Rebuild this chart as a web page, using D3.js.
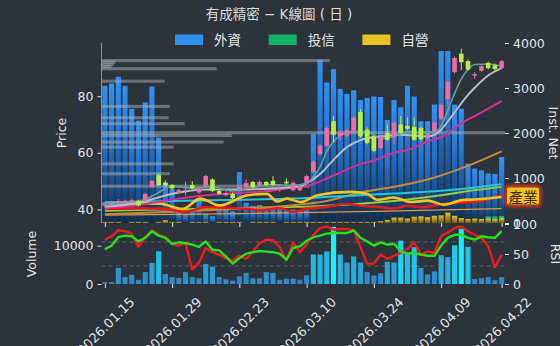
<!DOCTYPE html>
<html>
<head>
<meta charset="utf-8">
<script src="https://cdn.jsdelivr.net/npm/d3@7"></script>
<style>
  body { margin: 0; background: #2d333b; }
  svg { display: block; }
</style>
</head>
<body>
<div id="chart"></div>
<script>
// ---- data ----
var dates = ["2026.01.15","2026.01.16","2026.01.19","2026.01.20","2026.01.21","2026.01.22","2026.01.23","2026.01.26","2026.01.27","2026.01.28",
  "2026.01.29","2026.01.30","2026.02.02","2026.02.03","2026.02.04","2026.02.05","2026.02.06","2026.02.09","2026.02.10","2026.02.11",
  "2026.02.23","2026.02.24","2026.02.25","2026.02.26","2026.03.02","2026.03.03","2026.03.04","2026.03.05","2026.03.06","2026.03.09",
  "2026.03.10","2026.03.11","2026.03.12","2026.03.13","2026.03.16","2026.03.17","2026.03.18","2026.03.19","2026.03.20","2026.03.23",
  "2026.03.24","2026.03.25","2026.03.26","2026.03.27","2026.03.30","2026.03.31","2026.04.01","2026.04.02","2026.04.07","2026.04.08",
  "2026.04.09","2026.04.10","2026.04.13","2026.04.14","2026.04.15","2026.04.16","2026.04.17","2026.04.20","2026.04.21","2026.04.22"];
var tickIdx = [0, 10, 20, 30, 40, 50, 59];

var opens = [41.3,41.8,42.2,42.4,42.5,43.0,43.2,48.0,52.1,49.4,
  48.6,45.8,46.6,48.6,46.0,48.0,50.6,46.5,45.0,45.5,
  46.8,47.8,49.7,48.6,49.7,50.1,47.1,49.8,46.8,46.8,
  49.4,53.3,59.5,62.5,71.2,66.0,66.0,67.0,74.4,68.2,
  65.8,61.7,67.0,65.8,70.0,69.5,69.2,68.8,65.3,67.6,
  72.0,79.0,88.5,95.0,92.4,87.3,89.0,91.8,91.0,89.9];
var closes = [41.9,42.5,42.9,43.0,43.2,41.4,45.4,50.1,48.6,48.6,
  47.4,46.8,46.9,47.5,47.4,51.8,46.5,45.5,45.8,44.0,
  48.0,49.4,47.8,49.7,48.6,48.6,47.4,49.2,49.4,48.2,
  51.8,56.9,62.5,68.8,66.4,67.0,68.0,72.4,65.8,63.5,
  60.7,65.8,64.6,70.6,67.0,68.5,64.6,64.8,66.5,70.7,
  77.0,85.0,93.5,92.0,89.4,87.8,90.6,89.9,89.6,92.4];
var highs = [42.3,43.0,43.6,43.5,43.8,43.4,45.8,50.5,52.8,50.2,
  49.0,47.3,49.8,50.0,47.8,52.2,51.0,47.0,46.5,46.0,
  48.4,50.5,50.1,50.2,50.0,51.8,48.5,51.0,49.8,48.6,
  52.3,57.4,63.0,69.4,73.0,68.0,68.6,73.0,75.5,69.0,
  66.2,66.3,70.0,71.0,73.0,72.5,72.5,69.2,67.0,71.2,
  77.5,85.5,94.0,96.8,93.0,88.5,91.0,92.3,91.5,92.8];
var lows = [41.0,41.5,41.9,42.0,42.2,41.0,42.9,47.5,48.2,48.2,
  47.0,45.4,44.8,47.2,45.6,47.6,46.1,45.2,44.6,43.6,
  46.4,47.4,47.4,48.2,48.2,48.2,46.2,48.8,46.4,46.4,
  49.0,52.9,59.0,62.0,63.7,64.5,65.5,66.6,65.3,63.0,
  60.2,61.2,64.2,63.0,66.6,68.0,64.2,64.4,64.8,67.2,
  71.5,76.5,88.0,89.2,89.0,86.0,88.6,89.5,88.6,89.5];

var volume = [500,500,4200,1800,2400,1100,3100,5500,8500,2600,
  1800,1600,3100,1800,1500,5200,4500,1800,1200,900,
  2000,2900,1500,1500,3100,2900,1100,1400,1400,1100,
  2300,7700,7700,8500,14900,7700,5600,7200,5600,3100,
  2200,2800,5800,5600,11300,8200,9600,4200,2500,3300,
  7500,7000,10100,14400,9700,1300,1500,1800,1000,1800];

var rsiShort = [74,79.5,89.5,88,84,62,78,89.5,82,78,
  67,64,68,24,36,60,53,49,43,39,
  47,42,54,68,74,73,62,39,69.5,53,
  66,82,93,96,90.5,91.7,91.7,89.5,62,34,
  34,49,42,47,52,58,69.5,49,54.5,52,
  79.5,86,93,96,88,82,77,63,28,49];
var rsiLong = [58,64,78,80.5,79.5,71,77,88,80.5,77,
  67,69.5,68,65.5,62,71,57,56,46,34,
  43,50.5,53,55,54,53,50.5,40.5,60,63,
  72,78,80.5,84,85,85,85,89.5,77,71,
  64,69.5,65.5,67,54.5,50.5,52,49,47,47,
  64,77,82,82,77,74,79.5,78,77,88];

var foreignNet = [3050,3100,3250,3050,2535,2275,2680,3030,1895,900,
  750,250,200,300,550,200,150,420,300,260,
  1130,450,380,400,350,350,300,280,300,290,
  320,1980,3620,3120,3420,2980,2870,2950,2735,2780,
  2810,2800,2290,2735,2570,3050,2810,2260,2260,2630,
  3820,3820,2630,2540,1320,1210,1170,1100,1090,1465];
var trustNet = [0,0,0,0,0,0,0,0,0,0, 0,0,0,0,0,0,0,0,0,0,
  0,0,0,0,0,0,0,0,0,0, 0,0,0,0,0,0,0,0,0,0,
  0,0,0,0,0,0,0,0,0,0, 0,0,0,0,0,0,60,150,150,160];
var dealerNet = [25,25,25,0,25,25,25,0,25,60,
  25,25,0,25,25,25,0,25,25,25,
  25,0,25,25,25,25,0,25,25,25,
  25,25,25,25,25,25,25,25,25,25,
  25,40,70,120,120,100,140,150,130,160,
  170,230,160,110,90,100,90,100,90,110];

// volume by price (left histogram)
var profilePrice = [92.6, 92.0, 91.2, 90.4, 89.7, 85.3, 76.4, 72.4, 70.3, 67.1, 66.1, 63.8, 62.0, 56.1, 52.6, 48.2, 42.1];
var profileVol = [228, 14, 12, 10, 115, 63, 68, 67, 83, 403, 130, 122, 72, 72, 68, 208, 63];

// average lines, [day index, price]
var maTeal = [[0,41.5],[3,42.3],[6,43.5],[8,46],[10,48.2],[13,47.5],[16,48],[19,46.5],[22,47.8],[25,48.8],[28,48.5],[30,49.2],
  [31,51.5],[32,55],[33,60.5],[34,64],[35,66],[37,67.5],[39,67.5],[41,65],[43,65.8],[45,67.5],[47,67.3],[49,67.5],
  [50,69.4],[51,75],[52,81],[53,86],[54,89.5],[55,91.2],[57,91.4],[59,90.7]];
var maGray = [[0,41],[5,42.3],[10,45.5],[15,47],[20,47],[25,47.4],[29,48.2],[30,49.2],[32,52.5],[34,57.5],[36,62],
  [38,64.5],[40,65.6],[42,66],[44,66.4],[46,66],[48,65.8],[49,66.3],[50,68.2],[52,74.3],[54,80.5],[55,83],[57,87.3],[59,89.9]];
var maMagenta = [[0,40.5],[5,41.5],[10,43.5],[15,45],[20,45.8],[25,46.7],[29,48],[30,48.3],[34,52],[38,56],[40,57.3],
  [43,60],[45,61],[48,64],[50,65.5],[53,70.5],[55,73],[59,78.3]];
var maTan = [[0,38.3],[10,39.2],[20,40.2],[28,41.5],[33,43],[38,46],[43,48],[48,50.6],[53,54.5],[59,60.5]];
var maCyan = [[0,42.5],[10,43],[20,43.4],[30,44],[38,45],[43,45.6],[48,46.2],[53,47.2],[59,48.9]];
var maLime = [[0,39.5],[10,40],[20,40.5],[30,41],[38,42],[45,43.5],[50,45],[55,46.8],[59,48]];
var maOrange = [[0,38],[20,38.5],[40,39.3],[59,40.3]];
var maYellow = [[0,40.4],[3,42.1],[8,42.1],[11.6,40.2],[14.2,43.8],[17.1,41.4],[21.2,45],[24.1,45.5],[25.6,42.8],[27.1,43.8],
  [29.1,42.6],[31.6,45],[36.5,46.2],[39,45.5],[40.5,43.4],[42.9,44.2],[45.5,42.6],[48,43.1],[50.4,41.7],[52.9,43.2],[55.4,43.6],[59,44.4]];
var maRed = [[0,40.2],[5,40.4],[9,40.2],[12,39.1],[15,40.8],[19,40.5],[21,40.2],[23,39.7],[26,40.4],[28,39.1],[30,40.2],
  [33,40.9],[36,42],[38,41.3],[40,41],[43,40.3],[45,41.3],[47,40.8],[50,41.8],[53,42.4],[55,42.6],[57,43.6],[59,45]];

var legendNames = ["外資", "投信", "自營"];
var legendColors = ["#2e90f0", "#12b46a", "#e6c620"];

// ---- layout ----
var svgWidth = 560, svgHeight = 346;
var left = 101.5, right = 505;
var mainTop = 43, mainBottom = 223;
var lowTop = 224, lowBottom = 284;
var textColor = "#e4e4e4";
var tickFont = "'DejaVu Sans', sans-serif";
var titleFont = "'DejaVu Sans', 'Noto Sans CJK TC', sans-serif";

var svg = d3.select("#chart").append("svg")
  .attr("width", svgWidth)
  .attr("height", svgHeight);

svg.append("rect").attr("width", svgWidth).attr("height", svgHeight).attr("fill", "#2d333b");

var defs = svg.append("defs");
var blueGrad = defs.append("linearGradient").attr("id", "blueGrad")
  .attr("x1", 0).attr("y1", 0).attr("x2", 0).attr("y2", 1);
[["0", "#2f93f5"], ["0.4", "#2374d3"], ["0.75", "#154f8f"], ["1", "#0b2a4f"]].forEach(function(s) {
  blueGrad.append("stop").attr("offset", s[0]).attr("stop-color", s[1]);
});
var yellowGrad = defs.append("linearGradient").attr("id", "yellowGrad")
  .attr("x1", 0).attr("y1", 0).attr("x2", 0).attr("y2", 1);
yellowGrad.append("stop").attr("offset", "0").attr("stop-color", "#e8c41c");
yellowGrad.append("stop").attr("offset", "1").attr("stop-color", "#6e5c10");

var glow = defs.append("filter").attr("id", "glow").attr("x", "-40%").attr("y", "-40%").attr("width", "180%").attr("height", "180%");
glow.append("feGaussianBlur").attr("in", "SourceGraphic").attr("stdDeviation", 1.6);

defs.append("clipPath").attr("id", "clipMain").append("rect")
  .attr("x", left).attr("y", mainTop).attr("width", right - left).attr("height", mainBottom - mainTop);
defs.append("clipPath").attr("id", "clipLow").append("rect")
  .attr("x", left).attr("y", lowTop).attr("width", right - left).attr("height", lowBottom - lowTop);

// scales
var x = d3.scaleLinear().domain([-0.5, dates.length - 0.5]).range([left, right]);
var step = x(1) - x(0);
var yPrice = d3.scaleLinear().domain([35.2, 98.8]).range([mainBottom, mainTop]);
var yInst = d3.scaleLinear().domain([0, 4000]).range([mainBottom, mainTop]);
var yVol = d3.scaleLinear().domain([0, d3.max(volume) * 1.05]).range([lowBottom, lowTop]);
var yRsi = d3.scaleLinear().domain([0, 100]).range([lowBottom, lowTop]);
var xProfile = d3.scaleLinear().domain([0, d3.max(profileVol)]).range([0, right - left]);
var volColor = d3.scaleLinear().domain([0, 3000, 15000]).range(["#3483bb", "#2f8ccc", "#12f4ff"]).clamp(true);

// ---- main panel ----
var main = svg.append("g").attr("clip-path", "url(#clipMain)");

// institutional bars
main.selectAll(".fbar").data(foreignNet).enter().append("rect")
  .attr("x", function(d, i) { return x(i) - step * 0.38; })
  .attr("width", step * 0.76)
  .attr("y", function(d) { return yInst(d); })
  .attr("height", function(d) { return yInst(0) - yInst(d); })
  .attr("fill", "url(#blueGrad)");

main.selectAll(".tbar").data(trustNet).enter().append("rect")
  .attr("x", function(d, i) { return x(i) - step * 0.38; })
  .attr("width", step * 0.76)
  .attr("y", function(d) { return yInst(d); })
  .attr("height", function(d) { return yInst(0) - yInst(d); })
  .attr("fill", "#15b56d");

main.selectAll(".dbar").data(dealerNet).enter().append("rect")
  .attr("x", function(d, i) { return x(i) - step * 0.38; })
  .attr("width", step * 0.76)
  .attr("y", function(d) { return yInst(d); })
  .attr("height", function(d) { return yInst(0) - yInst(d); })
  .attr("fill", "url(#yellowGrad)");

// volume by price
var bin = 1.1;
main.selectAll(".prof").data(profilePrice).enter().append("rect")
  .attr("x", left)
  .attr("y", function(d) { return yPrice(d + bin / 2); })
  .attr("height", function(d) { return yPrice(d - bin / 2) - yPrice(d + bin / 2); })
  .attr("width", function(d, i) { return xProfile(profileVol[i]); })
  .attr("fill", "#a9afb7")
  .attr("opacity", 0.5);

// average lines
var maLine = d3.line()
  .x(function(d) { return x(d[0]); })
  .y(function(d) { return yPrice(d[1]); })
  .curve(d3.curveMonotoneX);

var maSeries = [
  [maOrange, "#e29a3c", 1.3],
  [maLime, "#9bcf3a", 1.8],
  [maTan, "#c48a3c", 2],
  [maCyan, "#25c6e0", 2],
  [maRed, "#e41b1b", 2.6],
  [maYellow, "#f4c51c", 2.6],
  [maMagenta, "#d42f98", 2],
  [maGray, "#b4bec6", 2],
  [maTeal, "#5fa39f", 1.6]
];
maSeries.forEach(function(s) {
  main.append("path").datum(s[0])
    .attr("d", maLine)
    .attr("fill", "none")
    .attr("stroke", s[1])
    .attr("stroke-width", s[2]);
});

// candles
var candle = main.selectAll(".candle").data(dates).enter().append("g");
candle.append("line")
  .attr("x1", function(d, i) { return x(i); })
  .attr("x2", function(d, i) { return x(i); })
  .attr("y1", function(d, i) { return yPrice(highs[i]); })
  .attr("y2", function(d, i) { return yPrice(lows[i]); })
  .attr("stroke", function(d, i) { return closes[i] >= opens[i] ? "#ec6ba9" : "#b5ef45"; })
  .attr("stroke-width", 1);
candle.append("rect")
  .attr("x", function(d, i) { return x(i) - step * 0.34; })
  .attr("width", step * 0.68)
  .attr("y", function(d, i) { return yPrice(Math.max(opens[i], closes[i])); })
  .attr("height", function(d, i) { return Math.max(1, Math.abs(yPrice(opens[i]) - yPrice(closes[i]))); })
  .attr("fill", function(d, i) { return closes[i] >= opens[i] ? "#ec6ba9" : "#b5ef45"; });

// ---- lower panel ----
var low = svg.append("g").attr("clip-path", "url(#clipLow)");

low.selectAll(".grid").data([30, 70]).enter().append("line")
  .attr("x1", left).attr("x2", right)
  .attr("y1", function(d) { return yRsi(d); })
  .attr("y2", function(d) { return yRsi(d); })
  .attr("stroke", "#5d636b")
  .attr("stroke-dasharray", "4,3")
  .attr("stroke-width", 1);

low.selectAll(".vbar").data(volume).enter().append("rect")
  .attr("x", function(d, i) { return x(i) - step * 0.38; })
  .attr("width", step * 0.76)
  .attr("y", function(d) { return yVol(d); })
  .attr("height", function(d) { return yVol(0) - yVol(d); })
  .attr("fill", function(d) { return volColor(d); });

var rsiLine = d3.line()
  .x(function(d, i) { return x(i); })
  .y(function(d) { return yRsi(d); });

low.append("path").datum(rsiShort)
  .attr("d", rsiLine).attr("fill", "none")
  .attr("stroke", "#ee1c1c").attr("stroke-width", 2.4).attr("stroke-linejoin", "round");
low.append("path").datum(rsiLong)
  .attr("d", rsiLine).attr("fill", "none")
  .attr("stroke", "#22e41c").attr("stroke-width", 2.4).attr("stroke-linejoin", "round");

// ---- axes ----
function styleAxis(g) {
  g.select(".domain").remove();
  g.selectAll(".tick line").attr("stroke", textColor);
  g.selectAll(".tick text").attr("fill", textColor)
    .style("font-family", tickFont).style("font-size", "12.5px");
}
var plain = d3.format("d");

svg.append("g").attr("transform", "translate(" + left + ",0)")
  .call(d3.axisLeft(yPrice).tickValues([40, 60, 80]).tickFormat(plain).tickSize(4).tickPadding(4))
  .call(styleAxis);
svg.append("line")
  .attr("x1", left).attr("x2", left).attr("y1", mainTop).attr("y2", mainBottom)
  .attr("stroke", "#8c9299").attr("stroke-width", 1);

svg.append("g").attr("transform", "translate(" + right + ",0)")
  .call(d3.axisRight(yInst).tickValues([0, 1000, 2000, 3000, 4000]).tickFormat(plain).tickSize(4).tickPadding(4))
  .call(styleAxis);

svg.append("g").attr("transform", "translate(" + left + ",0)")
  .call(d3.axisLeft(yVol).tickValues([0, 10000]).tickFormat(plain).tickSize(4).tickPadding(4))
  .call(styleAxis);

svg.append("g").attr("transform", "translate(" + right + ",0)")
  .call(d3.axisRight(yRsi).tickValues([0, 50, 100]).tickFormat(plain).tickSize(4).tickPadding(4))
  .call(styleAxis);

// date ticks on both panels
var xTicks = d3.axisBottom(x).tickValues(tickIdx).tickSize(4).tickFormat("");
svg.append("g").attr("transform", "translate(0," + mainBottom + ")").call(xTicks).call(styleAxis);
svg.append("g").attr("transform", "translate(0," + lowBottom + ")").call(xTicks).call(styleAxis);

svg.selectAll(".dateLabel").data(tickIdx).enter().append("text")
  .attr("transform", function(d) { return "translate(" + (x(d) + 1) + "," + (lowBottom + 42) + ") rotate(-45)"; })
  .attr("text-anchor", "middle")
  .attr("dominant-baseline", "central")
  .attr("fill", textColor)
  .style("font-family", tickFont)
  .style("font-size", "13px")
  .text(function(d) { return dates[d]; });

// axis titles
function axisTitle(tx, ty, rot, label) {
  svg.append("text")
    .attr("transform", "translate(" + tx + "," + ty + ") rotate(" + rot + ")")
    .attr("text-anchor", "middle")
    .attr("dominant-baseline", "central")
    .attr("fill", textColor)
    .style("font-family", tickFont)
    .style("font-size", "12.5px")
    .text(label);
}
axisTitle(61, (mainTop + mainBottom) / 2, -90, "Price");
axisTitle(31, (lowTop + lowBottom) / 2, -90, "Volume");
axisTitle(553.5, (mainTop + mainBottom) / 2, 90, "Inst. Net");
axisTitle(555, (lowTop + lowBottom) / 2, 90, "RSI");

// title
svg.append("text")
  .attr("x", 279).attr("y", 14)
  .attr("text-anchor", "middle")
  .attr("dominant-baseline", "central")
  .attr("fill", "#dcdcdc")
  .style("font-family", titleFont)
  .style("font-size", "13.5px")
  .text("有成精密 − K線圖 ( 日 )");

// legend
var legend = svg.selectAll(".legend").data(legendNames).enter().append("g")
  .attr("transform", function(d, i) { return "translate(" + (175 + i * 93.7) + ",34.5)"; });
legend.append("rect").attr("width", 28).attr("height", 10.5)
  .attr("fill", function(d, i) { return legendColors[i]; });
legend.append("text").attr("x", 39).attr("y", 5.5)
  .attr("dominant-baseline", "central")
  .attr("fill", textColor)
  .style("font-family", titleFont)
  .style("font-size", "13.5px")
  .text(function(d) { return d; });

// industry badge
var badge = svg.append("g").attr("transform", "translate(523,196)");
badge.append("rect").attr("x", -17).attr("y", -9.5).attr("width", 34).attr("height", 19).attr("rx", 3)
  .attr("fill", "none").attr("stroke", "#e8321a").attr("stroke-width", 3).attr("filter", "url(#glow)");
badge.append("rect").attr("x", -16).attr("y", -8.5).attr("width", 32).attr("height", 17).attr("rx", 2)
  .attr("fill", "#f2c21c");
badge.append("text")
  .attr("text-anchor", "middle").attr("dominant-baseline", "central")
  .attr("fill", "#3a2a06")
  .style("font-family", "'Noto Sans CJK TC', sans-serif")
  .style("font-size", "14.5px")
  .text("產業");
</script>
</body>
</html>
